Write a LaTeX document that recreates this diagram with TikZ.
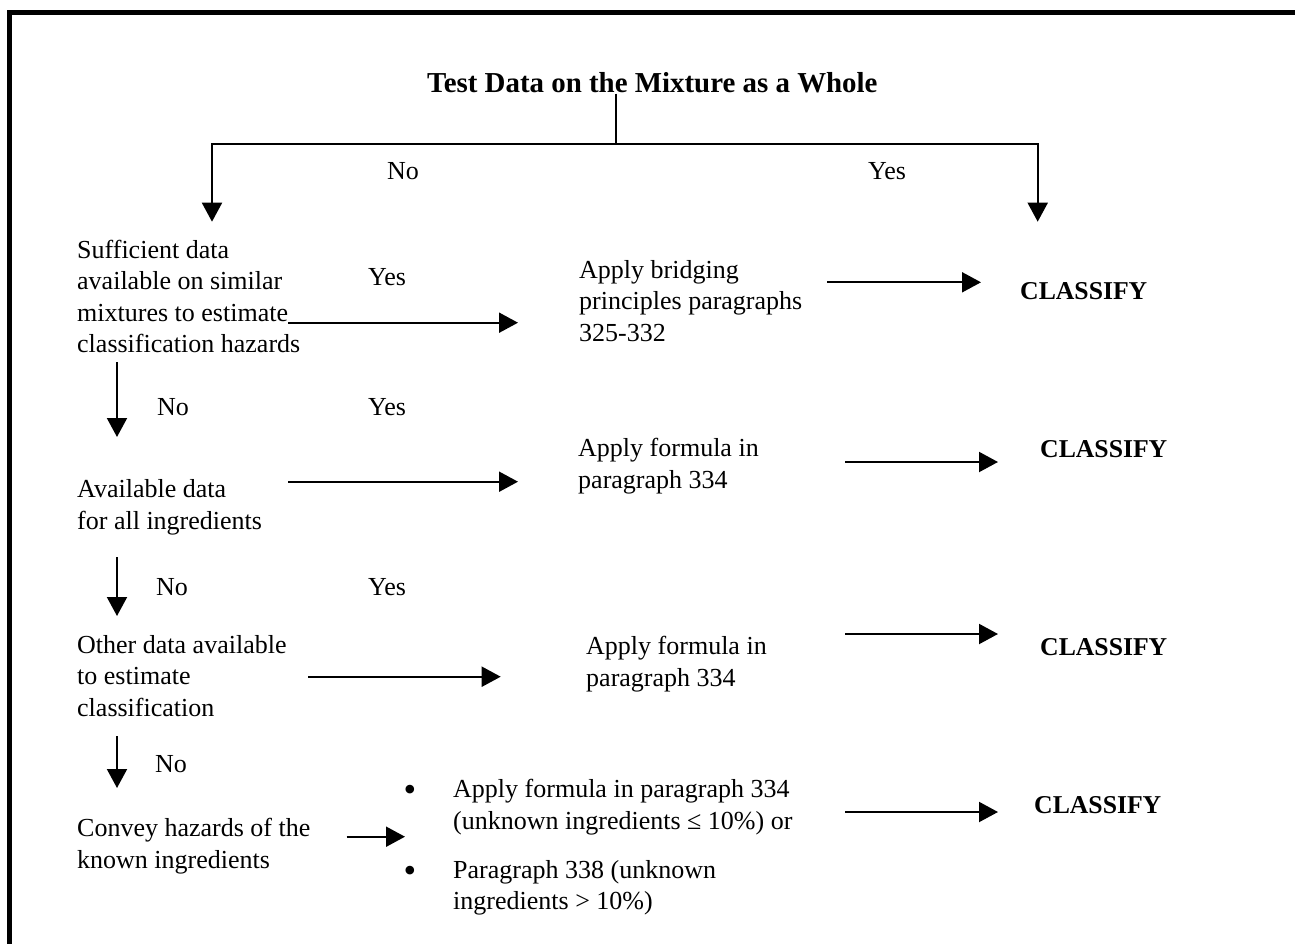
\documentclass[tikz,border=0pt]{standalone}
\usepackage{fontspec}
\setmainfont{Liberation Serif}
\usetikzlibrary{arrows.meta}
\begin{document}
\begin{tikzpicture}[x=1pt,y=-1pt,
  txt/.style={inner sep=0pt, anchor=base west, align=left, font=\fontsize{26}{31.5}\selectfont},
  cls/.style={inner sep=0pt, anchor=base west, font=\fontsize{25.7}{30}\selectfont\bfseries},
  bul/.style={inner sep=0pt, anchor=center, font=\fontsize{36}{36}\selectfont},
  arr/.style={line width=2pt, -{Triangle[length=19pt,width=20pt]}},
  ln/.style={line width=2pt}]
\useasboundingbox (0,0) rectangle (1295,944);
% frame (top and left sides)
\draw[line width=5pt] (9.8,944) -- (9.8,12.5) -- (1295,12.5);

% title
\node[inner sep=0pt, anchor=base west, font=\fontsize{28.9}{34}\selectfont\bfseries] (title) at (427,93) {Test Data on the Mixture as a Whole};
\coordinate (split) at (616,144);
\coordinate (Ltip) at (212,221.7);
\coordinate (Rtip) at (1037.7,221.7);
\draw[ln] (title.south -| split) -- (split);
\draw[arr] (split) -| (Ltip);
\draw[arr] (split) -| (Rtip);
\node[txt] (no0) at (387,179) {No};
\node[txt] (yes0) at (868,179) {Yes};

% left column questions (anchor = baseline of last line)
\node[txt] (q1) at (77,352.5) {Sufficient data\\available on similar\\mixtures to estimate\\classification hazards};
\node[txt] (q2) at (77,529) {Available data\\for all ingredients};
\node[txt] (q3) at (77,716) {Other data available\\to estimate\\classification};
\node[txt] (q4) at (77,868) {Convey hazards of the\\known ingredients};

% middle column actions
\node[txt] (a1) at (579,341) {Apply bridging\\principles paragraphs\\325-332};
\node[txt] (a2) at (578,488) {Apply formula in\\paragraph 334};
\node[txt] (a3) at (586,686) {Apply formula in\\paragraph 334};
\node[bul] (bul1) at (410,793) {\textbullet};
\node[bul] (bul2) at (410,874) {\textbullet};
\node[txt] (b1) at (453,829) {Apply formula in paragraph 334\\(unknown ingredients ≤ 10\%) or};
\node[txt] (b2) at (453,909.5) {Paragraph 338 (unknown\\ingredients > 10\%)};

% classify
\node[cls] (c1) at (1020,299) {CLASSIFY};
\node[cls] (c2) at (1040,457) {CLASSIFY};
\node[cls] (c3) at (1040,655) {CLASSIFY};
\node[cls] (c4) at (1034,813) {CLASSIFY};

% yes / no labels
\node[txt] (yes1) at (368,285) {Yes};
\node[txt] (no2) at (157,415) {No};
\node[txt] (yes2) at (368,415) {Yes};
\node[txt] (no3) at (156,595) {No};
\node[txt] (yes3) at (368,595) {Yes};
\node[txt] (no4) at (155,772) {No};

% down arrows
\coordinate (d1s) at (117,362); \coordinate (d1e) at (117,437);
\coordinate (d2s) at (117,557); \coordinate (d2e) at (117,616);
\coordinate (d3s) at (117,736); \coordinate (d3e) at (117,788);
\draw[arr] (d1s) -- (d1e);
\draw[arr] (d2s) -- (d2e);
\draw[arr] (d3s) -- (d3e);

% yes arrows
\coordinate (h1s) at (288,322.7); \coordinate (h1e) at (518,322.7);
\coordinate (h2s) at (288,481.7); \coordinate (h2e) at (518,481.7);
\coordinate (h3s) at (308,676.7); \coordinate (h3e) at (500.7,676.7);
\coordinate (h4s) at (346.7,836.7); \coordinate (h4e) at (405,836.7);
\draw[arr] (h1s) -- (h1e);
\draw[arr] (h2s) -- (h2e);
\draw[arr] (h3s) -- (h3e);
\draw[arr] (h4s) -- (h4e);

% to classify
\coordinate (r1s) at (827,282.3); \coordinate (r1e) at (981,282.3);
\coordinate (r2s) at (845,462); \coordinate (r2e) at (998,462);
\coordinate (r3s) at (845,634); \coordinate (r3e) at (998,634);
\coordinate (r4s) at (845,812); \coordinate (r4e) at (998,812);
\draw[arr] (r1s) -- (r1e);
\draw[arr] (r2s) -- (r2e);
\draw[arr] (r3s) -- (r3e);
\draw[arr] (r4s) -- (r4e);
\end{tikzpicture}
\end{document}
